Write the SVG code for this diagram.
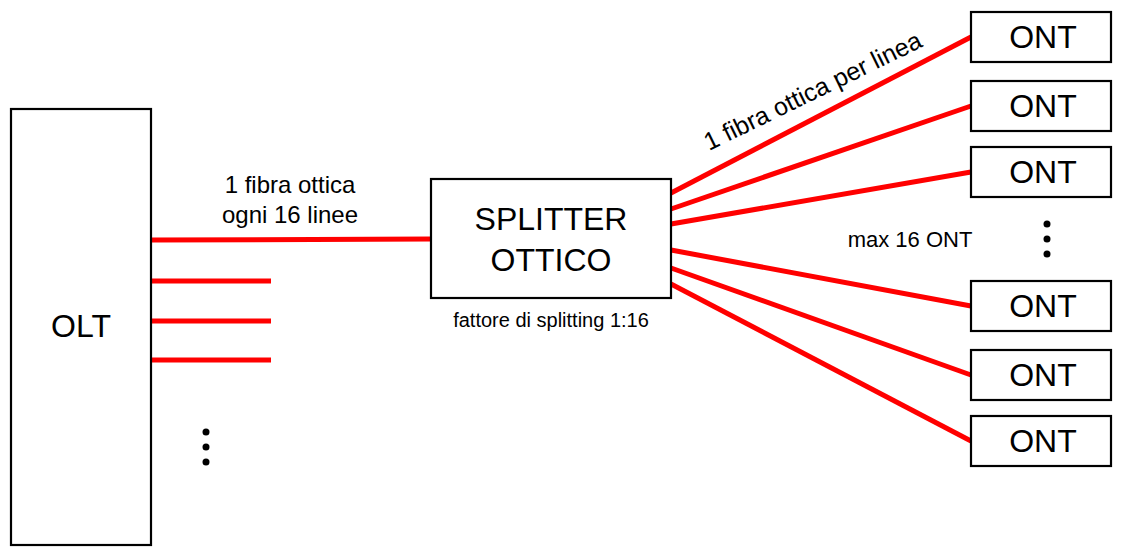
<svg xmlns="http://www.w3.org/2000/svg" width="1124" height="556" viewBox="0 0 1124 556">
<style>
  .box{fill:#fff;stroke:#000;stroke-width:2.2}
  .fib{stroke:#ff0000;stroke-width:5;fill:none}
  .t{font-family:"Liberation Sans",Arial,sans-serif;fill:#000}
  .big{font-size:32px;text-anchor:middle}
  .lab{font-size:24px;text-anchor:middle}
  .dot{fill:#000}
</style>
<rect width="1124" height="556" fill="#fff"/>
<g id="connectors">
  <line class="fib" x1="152" y1="240" x2="431" y2="239"/>
  <line class="fib" x1="152" y1="281" x2="271" y2="281"/>
  <line class="fib" x1="152" y1="321" x2="271" y2="321"/>
  <line class="fib" x1="152" y1="360" x2="271" y2="360"/>
  <line class="fib" x1="671" y1="193" x2="971" y2="37"/>
  <line class="fib" x1="671" y1="209" x2="971" y2="106"/>
  <line class="fib" x1="671" y1="224" x2="971" y2="172"/>
  <line class="fib" x1="671" y1="250" x2="971" y2="306"/>
  <line class="fib" x1="671" y1="268" x2="971" y2="375"/>
  <line class="fib" x1="671" y1="284" x2="971" y2="441"/>
</g>
<g id="olt">
  <rect class="box" x="11" y="109" width="140" height="436"/>
  <text class="t big" x="81" y="337">OLT</text>
  <circle class="dot" cx="206" cy="432" r="3.5"/>
  <circle class="dot" cx="206" cy="447" r="3.5"/>
  <circle class="dot" cx="206" cy="462" r="3.5"/>
</g>
<g id="label-trunk">
  <text class="t lab" x="290" y="193">1 fibra ottica</text>
  <text class="t lab" x="290" y="223">ogni 16 linee</text>
</g>
<g id="splitter">
  <rect class="box" x="431" y="179" width="240" height="119"/>
  <text class="t big" x="551" y="230">SPLITTER</text>
  <text class="t big" x="551" y="271">OTTICO</text>
  <text class="t" x="551" y="327" font-size="20" text-anchor="middle">fattore di splitting 1:16</text>
</g>
<g id="label-branch">
  <text class="t" x="709" y="151" font-size="25" transform="rotate(-26 709 151)">1 fibra ottica per linea</text>
</g>
<g id="ont1"><rect class="box" x="971" y="12" width="140" height="50"/><text class="t big" x="1043" y="48">ONT</text></g>
<g id="ont2"><rect class="box" x="971" y="81" width="140" height="50"/><text class="t big" x="1043" y="117">ONT</text></g>
<g id="ont3"><rect class="box" x="971" y="147" width="140" height="50"/><text class="t big" x="1043" y="183">ONT</text></g>
<g id="ont-more">
  <text class="t" x="910" y="247" font-size="22" text-anchor="middle">max 16 ONT</text>
  <circle class="dot" cx="1047" cy="224" r="3.5"/>
  <circle class="dot" cx="1047" cy="239" r="3.5"/>
  <circle class="dot" cx="1047" cy="254" r="3.5"/>
</g>
<g id="ont4"><rect class="box" x="971" y="281" width="140" height="50"/><text class="t big" x="1043" y="317">ONT</text></g>
<g id="ont5"><rect class="box" x="971" y="350" width="140" height="50"/><text class="t big" x="1043" y="386">ONT</text></g>
<g id="ont6"><rect class="box" x="971" y="416" width="140" height="50"/><text class="t big" x="1043" y="452">ONT</text></g>
</svg>
